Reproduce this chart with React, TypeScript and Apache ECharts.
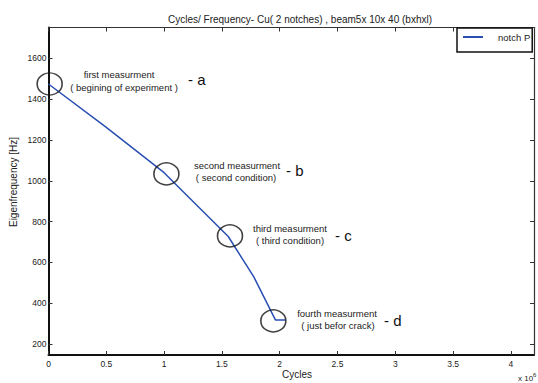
import React, { useEffect, useRef } from "react";
import * as echarts from "echarts";

const cycles = [0, 0.5, 1.0, 1.555, 1.775, 1.963, 2.05];
const frequency = [1475, 1262, 1040, 727, 530, 318, 318];
const markCycles = [0.01, 1.02, 1.57, 1.945];
const markFrequency = [1475, 1034, 730, 313];
const yTicks = [200, 400, 600, 800, 1000, 1200, 1400, 1600];
const seriesName = "notch P";
const annotations = [
  { line1: "first measurment", line2: "( begining of experiment )", tag: "- a" },
  { line1: "second measurment", line2: "( second condition)", tag: "- b" },
  { line1: "third measurment", line2: "( third condition)", tag: "- c" },
  { line1: "fourth measurment", line2: "( just befor crack)", tag: "- d" },
];
// label anchor positions (pixels) for the annotation texts
const annotationPos = [
  { x1: 119, y1: 74, x2: 124, y2: 87, tx: 188, ty: 79 },
  { x1: 237, y1: 165, x2: 236, y2: 177, tx: 286, ty: 170 },
  { x1: 290, y1: 228, x2: 290, y2: 240, tx: 335, ty: 235 },
  { x1: 337, y1: 313, x2: 338, y2: 325, tx: 384, ty: 320 },
];

const FONT = "'Liberation Sans', Arial, Helvetica, sans-serif";

export default function App() {
  const ref = useRef<HTMLDivElement>(null);
  useEffect(() => {
    if (!ref.current) return;
    const chart = echarts.init(ref.current, undefined, { renderer: "svg" });
    const graphics: any[] = [];
    annotations.forEach((a, i) => {
      const p = annotationPos[i];
      graphics.push({
        type: "text", x: p.x1, y: p.y1,
        style: { text: a.line1, font: `9.5px ${FONT}`, fill: "#222", align: "center", verticalAlign: "middle" },
      });
      graphics.push({
        type: "text", x: p.x2, y: p.y2,
        style: { text: a.line2, font: `9.5px ${FONT}`, fill: "#222", align: "center", verticalAlign: "middle" },
      });
      graphics.push({
        type: "text", x: p.tx, y: p.ty,
        style: { text: a.tag, font: `15px ${FONT}`, fill: "#111", align: "left", verticalAlign: "middle" },
      });
    });
    graphics.push({
      type: "text", x: 297, y: 374,
      style: { text: "Cycles", font: `10px ${FONT}`, fill: "#222", align: "center", verticalAlign: "middle" },
    });
    graphics.push({
      type: "text", x: 13, y: 182, rotation: Math.PI / 2,
      style: { text: "Eigenfrequency [Hz]", font: `10px ${FONT}`, fill: "#222", align: "center", verticalAlign: "middle" },
    });
    graphics.push({
      type: "text", x: 518, y: 378,
      style: {
        text: "{a|x 10}{b|6}",
        rich: {
          a: { fontSize: 8, fontFamily: FONT, fill: "#222" },
          b: { fontSize: 6, fontFamily: FONT, fill: "#222", verticalAlign: "top", padding: [0, 0, 6, 0] },
        },
        verticalAlign: "middle",
      },
    });

    const tickLabel = { fontSize: 8.5, fontFamily: FONT, color: "#222" };
    chart.setOption({
      animation: false,
      backgroundColor: "#fff",
      title: {
        text: "Cycles/ Frequency- Cu( 2 notches) , beam5x 10x 40 (bxhxl)",
        left: 295, top: 9, textAlign: "center",
        textStyle: { fontSize: 10, fontWeight: "normal", fontFamily: FONT, color: "#222" },
      },
      grid: { left: 48.5, right: 4, top: 27.5, bottom: 28 },
      legend: {
        data: [{ name: seriesName, icon: "rect" }],
        left: 457, top: 28,
        orient: "vertical",
        padding: [4, 2, 10, 6],
        itemWidth: 20, itemHeight: 2,
        borderColor: "#111", borderWidth: 1.5,
        backgroundColor: "#fff",
        textStyle: { fontSize: 9.5, fontFamily: FONT, color: "#222", padding: [0, 0, 0, 10] },
      },
      xAxis: [
        {
          type: "value", min: 0, max: 4.2, interval: 0.5, position: "bottom",
          axisLine: { show: true, onZero: false, lineStyle: { color: "#111", width: 2 } },
          axisTick: { show: true, inside: true, length: 4, lineStyle: { color: "#333" } },
          axisLabel: { ...tickLabel, margin: 4, formatter: (v: number) => (v > 4.01 ? "" : String(v)) },
          splitLine: { show: false },
        },
        {
          type: "value", min: 0, max: 4.2, interval: 0.5, position: "top",
          axisLine: { show: true, onZero: false, lineStyle: { color: "#333", width: 1.2 } },
          axisTick: { show: true, inside: true, length: 4, lineStyle: { color: "#333" } },
          axisLabel: { show: false },
          splitLine: { show: false },
        },
      ],
      yAxis: [
        {
          type: "value", min: 146, max: 1752, position: "left",
          axisLine: { show: true, onZero: false, lineStyle: { color: "#111", width: 2 } },
          axisTick: { show: true, inside: true, length: 4, customValues: yTicks, lineStyle: { color: "#333" } },
          axisLabel: { ...tickLabel, margin: 2, customValues: yTicks, formatter: (v: number) => String(v) },
          splitLine: { show: false },
        },
        {
          type: "value", min: 146, max: 1752, position: "right",
          axisLine: { show: true, onZero: false, lineStyle: { color: "#333", width: 1.2 } },
          axisTick: { show: true, inside: true, length: 4, customValues: yTicks, lineStyle: { color: "#333" } },
          axisLabel: { show: false, customValues: yTicks },
          splitLine: { show: false },
        },
      ],
      series: [
        {
          name: seriesName,
          type: "line",
          xAxisIndex: 0, yAxisIndex: 0,
          data: cycles.map((c, i) => [c, frequency[i]]),
          symbol: "none",
          lineStyle: { color: "#2a4fb3", width: 1.5 },
          itemStyle: { color: "#2a4fb3" },
          z: 3,
        },
        {
          name: "marks",
          type: "scatter",
          xAxisIndex: 0, yAxisIndex: 0,
          data: markCycles.map((c, i) => [c, markFrequency[i]]),
          symbol: "circle",
          symbolSize: [25, 22],
          itemStyle: { color: "rgba(0,0,0,0)", borderColor: "#111", borderWidth: 1.5 },
          z: 4,
          silent: true,
        },
      ],
      graphic: graphics,
    });
    return () => chart.dispose();
  }, []);
  return <div ref={ref} style={{ width: 538, height: 383, position: "absolute", left: 0, top: 0 }} />;
}
